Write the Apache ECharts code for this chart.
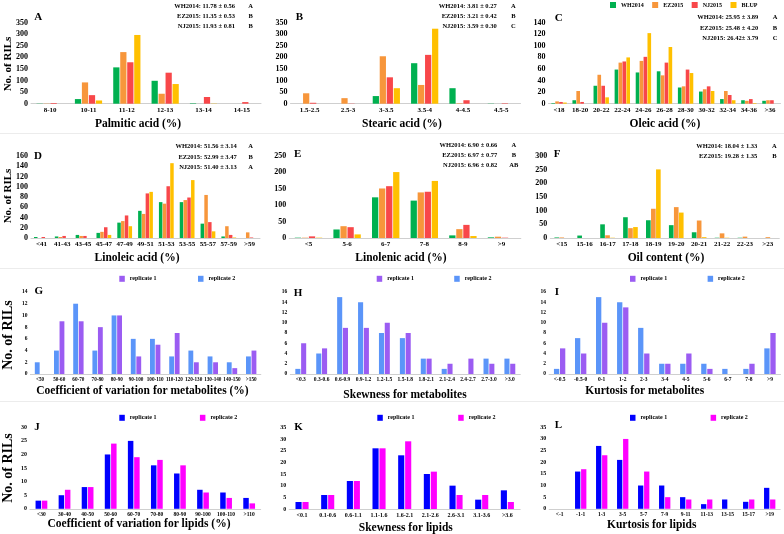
<!DOCTYPE html>
<html><head><meta charset="utf-8">
<script src="https://cdn.jsdelivr.net/npm/echarts@6/dist/echarts.min.js"></script>
<style>html,body{margin:0;padding:0;background:#fff}#c{width:784px;height:534px}</style>
</head><body><div id="c"></div>
<script>
// ---------- DATA ----------
// A: Palmitic acid
const catA = ['8-10','10-11','11-12','12-13','13-14','14-15'];
const whA = [1,20,157,99,2,0];
const ezA = [1,92,223,43,0,0];
const njA = [3,37,179,134,29,7];
const blA = [0,14,297,85,1,0];
const statA = [['WH2014: 11.78 ± 0.56','A'],['EZ2015: 11.35 ± 0.53','B'],['NJ2015: 11.93 ± 0.81','B']];
// B: Stearic acid
const catB = ['1.5-2.5','2.5-3','3-3.5','3.5-4','4-4.5','4.5-5'];
const whB = [0,0,33,175,67,1];
const ezB = [45,24,205,81,2,0];
const njB = [4,1,114,211,15,2];
const blB = [0,0,67,324,0,0];
const statB = [['WH2014: 3.81 ± 0.27','A'],['EZ2015: 3.21 ± 0.42','B'],['NJ2015: 3.59 ± 0.30','C']];
// C: Oleic acid
const catC = ['<18','18-20','20-22','22-24','24-26','26-28','28-30','30-32','32-34','34-36','>36'];
const whC = [1,6,31,59,54,56,28,21,8,6,5];
const ezC = [4,22,50,71,74,49,30,25,22,5,6];
const njC = [3,3,31,73,81,71,59,30,15,8,6];
const blC = [2,0,11,80,122,98,53,22,6,1,0];
const statC = [['WH2014: 25.95 ± 3.89','A'],['EZ2015: 25.48 ± 4.20','B'],['NJ2015: 26.42± 3.79','C']];
// D: Linoleic acid
const catD = ['<41','41-43','43-45','45-47','47-49','49-51','51-53','53-55','55-57','57-59','>59'];
const whD = [2,3,6,10,30,53,70,70,28,3,0];
const ezD = [0,2,4,12,33,47,67,74,84,23,11];
const njD = [2,4,4,21,44,87,101,79,31,6,1];
const blD = [0,0,0,6,23,90,146,113,13,1,0];
const statD = [['WH2014: 51.56 ± 3.14','A'],['EZ2015: 52.99 ± 3.47','B'],['NJ2015: 51.40 ± 3.13','A']];
// E: Linolenic acid
const catE = ['<5','5-6','6-7','7-8','8-9','>9'];
const whE = [1,26,124,114,8,2];
const ezE = [1,36,151,139,27,4];
const njE = [5,33,158,141,40,1];
const blE = [1,11,201,174,6,0];
const statE = [['WH2014: 6.90 ± 0.66','A'],['EZ2015: 6.97 ± 0.77','B'],['NJ2015: 6.96 ± 0.82','AB']];
// F: Oil content
const catF = ['<15','15-16','16-17','17-18','18-19','19-20','20-21','21-22','22-23','>23'];
const whF = [2,9,50,76,65,47,21,1,1,0];
const ezF = [2,0,10,36,107,113,64,17,5,3];
const blF = [0,0,1,40,251,93,3,1,0,0];
const statF = [['WH2014: 18.04 ± 1.33','A'],['EZ2015: 19.28 ± 1.35','B']];
// G: CV metabolites
const catG = ['<50','50-60','60-70','70-80','80-90','90-100','100-110','110-120','120-130','130-140','140-150','>150'];
const g1 = [0,9,9,8,10,3,5,7,2,2,1,4];
const g2 = [2,4,12,4,10,6,6,3,4,3,2,3];
// H: Skewness metabolites
const catH = ['<0.3','0.3-0.6','0.6-0.9','0.9-1.2','1.2-1.5','1.5-1.8','1.8-2.1','2.1-2.4','2.4-2.7','2.7-3.0','>3.0'];
const h1 = [6,5,9,9,10,8,3,2,3,2,2];
const h2 = [1,4,15,14,8,7,3,1,0,3,3];
// I: Kurtosis metabolites
const catI = ['<-0.5','-0.5-0','0-1','1-2','2-3','3-4','4-5','5-6','6-7','7-8','>9'];
const i1 = [5,4,10,13,4,2,4,1,0,2,8];
const i2 = [1,7,15,14,9,2,2,2,1,1,5];
// J: CV lipids
const catJ = ['<30','30-40','40-50','50-60','60-70','70-80','80-90','90-100','100-110','>110'];
const j1 = [3,5,8,20,25,16,13,7,6,4];
const j2 = [3,7,8,24,19,18,16,6,4,2];
// K: Skewness lipids
const catK = ['<0.1','0.1-0.6','0.6-1.1','1.1-1.6','1.6-2.1','2.1-2.6','2.6-3.1','3.1-3.6','>3.6'];
const k1 = [3,6,12,26,23,15,10,4,8];
const k2 = [3,6,12,26,29,16,6,6,3];
// L: Kurtosis lipids
const catL = ['<-1','-1-1','1-3','3-5','5-7','7-9','9-11','11-13','13-15','15-17','>19'];
const l1 = [0,16,27,21,10,10,5,2,4,3,9];
const l2 = [0,17,23,30,16,5,4,4,0,4,4];

// ---------- STYLE / LAYOUT ----------
const FONT = "'Liberation Serif','Times New Roman',serif";
const C = {WH:'#00b050', EZ:'#f7963b', NJ:'#f8474a', BL:'#ffc000', m1:'#9b5cf2', m2:'#5b95f9', p1:'#0000ff', p2:'#ff00ff'};

const panels = [
 {L:'A',lp:[38.3,17],cats:catA,ser:[['WH2014',whA,C.WH],['EZ2015',ezA,C.EZ],['NJ2015',njA,C.NJ],['BLUP',blA,C.BL]],max:350,iv:50,g:[31,22.7,230,81],gap:'29%',bg:'12%',xf:7,yf:8,title:'Palmitic acid (%)',tp:[138,124.5],stat:statA,sr:235,sl:250.7,sy:[6,16,26]},
 {L:'B',lp:[299.3,17.3],cats:catB,ser:[['WH2014',whB,C.WH],['EZ2015',ezB,C.EZ],['NJ2015',njB,C.NJ],['BLUP',blB,C.BL]],max:350,iv:50,g:[290.5,22.7,230,81],gap:'29%',bg:'12%',xf:7,yf:8,title:'Stearic acid (%)',tp:[402,124.5],stat:statB,sr:496.7,sl:513.3,sy:[6,16,26]},
 {L:'C',lp:[558.7,17.7],cats:catC,ser:[['WH2014',whC,C.WH],['EZ2015',ezC,C.EZ],['NJ2015',njC,C.NJ],['BLUP',blC,C.BL]],max:140,iv:20,g:[548.5,22.7,232,81],gap:'27%',bg:'8%',xf:7,yf:8,title:'Oleic acid (%)',tp:[665,124.5],stat:statC,sr:758.3,sl:775,sy:[17.3,28.3,38.5]},
 {L:'D',lp:[38,155.7],cats:catD,ser:[['WH2014',whD,C.WH],['EZ2015',ezD,C.EZ],['NJ2015',njD,C.NJ],['BLUP',blD,C.BL]],max:160,iv:20,g:[31,156,229,82],gap:'29%',bg:'8%',xf:7,yf:8,title:'Linoleic acid (%)',tp:[137,258.3],stat:statD,sr:236.7,sl:250.7,sy:[146,157.5,167.7]},
 {L:'E',lp:[297.7,154],cats:catE,ser:[['WH2014',whE,C.WH],['EZ2015',ezE,C.EZ],['NJ2015',njE,C.NJ],['BLUP',blE,C.BL]],max:250,iv:50,g:[289.2,156,231.6,82],gap:'29%',bg:'12%',xf:7,yf:8,title:'Linolenic acid (%)',tp:[401,258.3],stat:statE,sr:497.3,sl:513.8,sy:[145,155,165]},
 {L:'F',lp:[557,154],cats:catF,ser:[['WH2014',whF,C.WH],['EZ2015',ezF,C.EZ],['BLUP',blF,C.BL]],max:300,iv:50,g:[550.3,156,229,82],gap:'36%',bg:'8%',xf:7,yf:8,title:'Oil content (%)',tp:[666,258.3],stat:statF,sr:757.3,sl:774.3,sy:[146,156]},
 {L:'G',lp:[38.8,291.3],cats:catG,ser:[['replicate 2',g2,C.m2],['replicate 1',g1,C.m1]],max:14,iv:2,g:[30.4,292,230.4,82],gap:'46%',bg:'14%',xf:5.2,yf:5.5,title:'Coefficient of variation for metabolites (%)',tp:[142.5,391.5],leg:[119.3,279.3,41.5,C.m1,C.m2]},
 {L:'H',lp:[298,293.3],cats:catH,ser:[['replicate 2',h2,C.m2],['replicate 1',h1,C.m1]],max:16,iv:2,g:[290.3,292,230,82],gap:'48%',bg:'14%',xf:5.5,yf:5.5,title:'Skewness for metabolites',tp:[405,395],leg:[376.7,279.3,40.3,C.m1,C.m2]},
 {L:'I',lp:[557,291.7],cats:catI,ser:[['replicate 2',i2,C.m2],['replicate 1',i1,C.m1]],max:16,iv:2,g:[549.1,292,231.4,82],gap:'46%',bg:'14%',xf:5.5,yf:5.5,title:'Kurtosis for metabolites',tp:[644.7,391.5],leg:[630,279.3,40.4,C.m1,C.m2]},
 {L:'J',lp:[37,426.7],cats:catJ,ser:[['replicate 1',j1,C.p1],['replicate 2',j2,C.p2]],max:30,iv:5,g:[29.9,427.3,230.8,81.5],gap:'49%',bg:'14%',xf:5.5,yf:6,title:'Coefficient of variation for lipids (%)',tp:[139,524.5],leg:[119.3,418.3,43.4,C.p1,C.p2]},
 {L:'K',lp:[298.5,427.5],cats:catK,ser:[['replicate 1',k1,C.p1],['replicate 2',k2,C.p2]],max:35,iv:5,g:[289.2,427.3,231,81.7],gap:'49%',bg:'14%',xf:6,yf:6,title:'Skewness for lipids',tp:[405.8,527.8],leg:[377.3,418.3,43.7,C.p1,C.p2]},
 {L:'L',lp:[558.3,425.3],cats:catL,ser:[['replicate 1',l1,C.p1],['replicate 2',l2,C.p2]],max:35,iv:5,g:[549.2,427.3,231,81.5],gap:'46%',bg:'14%',xf:5.5,yf:6,title:'Kurtosis for lipids',tp:[651.7,525],leg:[630,418.3,43.4,C.p1,C.p2]}
];

const grid=[], xAxis=[], yAxis=[], series=[], legend=[], elements=[];
function txt(x,y,s,size,align,rot){
  const e={type:'text',x:x,y:y,silent:true,style:{text:s,font:'bold '+size+'px '+FONT,fill:'#000',align:align||'center',verticalAlign:'middle',textAlign:align||'center',textVerticalAlign:'middle'}};
  if(rot) e.rotation=rot;
  elements.push(e);
}
panels.forEach((p,i)=>{
  grid.push({left:p.g[0],top:p.g[1],width:p.g[2],height:p.g[3],containLabel:false});
  xAxis.push({type:'category',gridIndex:i,data:p.cats,
    axisLine:{lineStyle:{color:'#cfcfcf',width:1}},
    axisTick:{length:3,lineStyle:{color:'#cfcfcf'}},
    axisLabel:{interval:0,margin:3,fontSize:p.xf,fontWeight:'bold',color:'#000',fontFamily:FONT}});
  yAxis.push({type:'value',gridIndex:i,min:0,max:p.max,interval:p.iv,
    axisLine:{show:false},axisTick:{show:false},splitLine:{show:false},
    axisLabel:{margin:3,fontSize:p.yf,fontWeight:'bold',color:'#000',fontFamily:FONT}});
  p.ser.forEach(s=>series.push({type:'bar',name:s[0],xAxisIndex:i,yAxisIndex:i,data:s[1],
    itemStyle:{color:s[2]},barCategoryGap:p.gap,barGap:p.bg,animation:false}));
  txt(p.lp[0],p.lp[1],p.L,11);
  txt(p.tp[0],p.tp[1],p.title,11.5);
  if(p.stat){
    p.stat.forEach((st,k)=>{ txt(p.sr,p.sy[k],st[0],6.5,'right'); txt(p.sl,p.sy[k],st[1],6.5,'center'); });
  }
  if(p.leg){
    legend.push({left:p.leg[0],top:p.leg[1]-3.5,padding:0,itemWidth:5.5,itemHeight:6,itemGap:p.leg[2],icon:'rect',
      selectedMode:false,
      textStyle:{fontFamily:FONT,fontWeight:'bold',fontSize:6,color:'#000'},
      data:[{name:'replicate 1',itemStyle:{color:p.leg[3]}},{name:'replicate 2',itemStyle:{color:p.leg[4]}}]});
  }
});
legend.push({left:610,top:2,padding:0,itemWidth:6,itemHeight:6,itemGap:8.5,icon:'rect',selectedMode:false,
  textStyle:{fontFamily:FONT,fontWeight:'bold',fontSize:6,color:'#000'},
  data:['WH2014','EZ2015','NJ2015','BLUP']});
// y-axis names
txt(8,64,'No. of RILs',11,'center',Math.PI/2);
txt(8,196,'No. of RILs',11,'center',Math.PI/2);
txt(8,335,'No. of RILs',14,'center',Math.PI/2);
txt(8,468,'No. of RILs',14,'center',Math.PI/2);
// faint panel separators
[133.5,268.5,401.5].forEach(y=>elements.push({type:'line',silent:true,shape:{x1:0,y1:y,x2:784,y2:y},style:{stroke:'#ececec',lineWidth:1}}));

const chart = echarts.init(document.getElementById('c'),null,{renderer:'canvas'});
chart.setOption({animation:false,backgroundColor:'#fff',grid,xAxis,yAxis,series,legend,graphic:{elements}});
</script></body></html>
